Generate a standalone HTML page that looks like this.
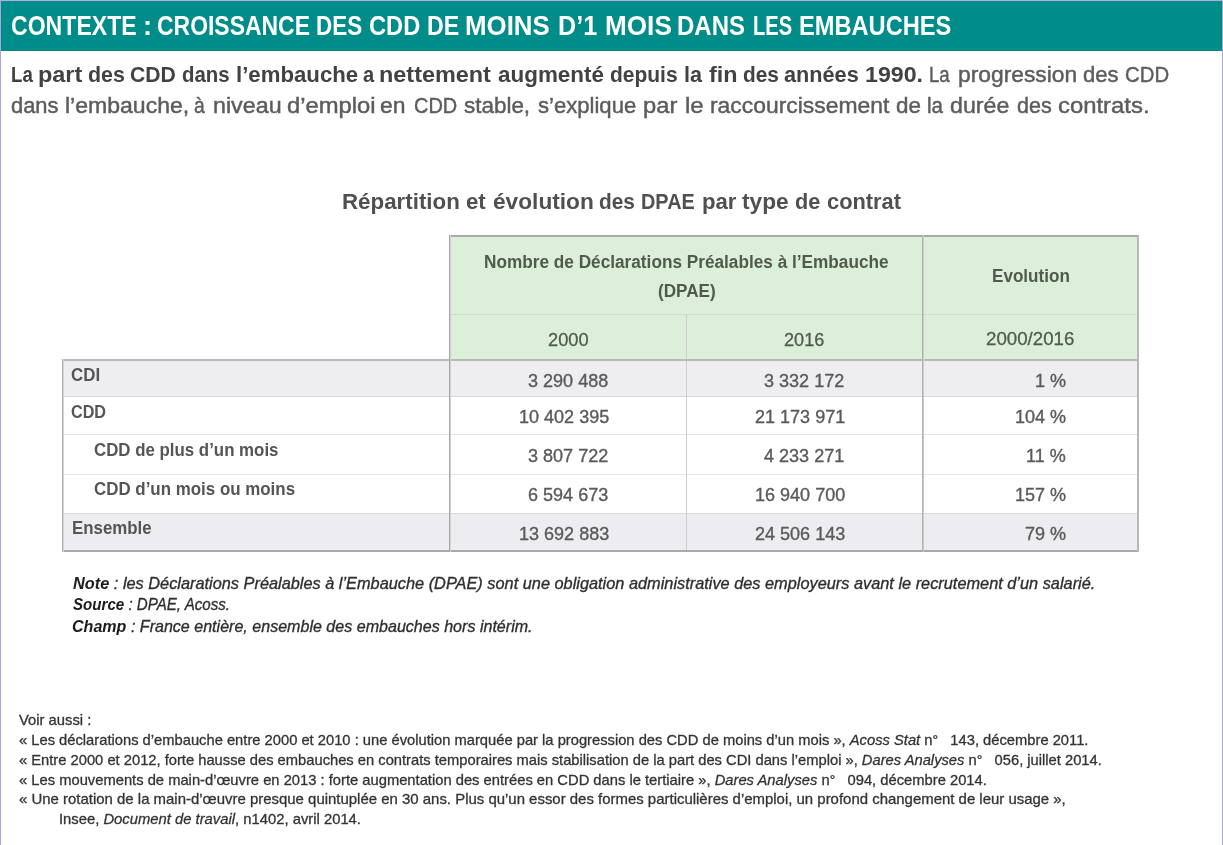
<!DOCTYPE html>
<html><head><meta charset="utf-8"><style>
*{margin:0;padding:0;box-sizing:border-box}
html,body{width:1223px;height:845px;overflow:hidden;background:#fff}
body{position:relative;font-family:"Liberation Sans",sans-serif;filter:blur(0.4px)}
.t{position:absolute;white-space:nowrap;transform-origin:0 0}
.t sup{font-size:0.6em;vertical-align:0.5em;line-height:0}
.bl{display:inline-block;width:0;height:0}
.t b{-webkit-text-stroke-width:0}
.r{position:absolute}
</style></head><body>
<div class="r" style="left:0;top:0;width:1223px;height:1px;background:#b4b0dc"></div>
<div class="r" style="left:0;top:0;width:1px;height:845px;background:#a9a7d6"></div>
<div class="r" style="left:1222px;top:0;width:1px;height:845px;background:#a9a9d0"></div>
<div class="r" style="left:1px;top:1px;width:1221px;height:50px;background:#008c88"></div>
<div class="r" style="left:449px;top:235px;width:690px;height:125px;background:#dcefd9"></div>
<div class="r" style="left:62px;top:360px;width:1077px;height:36px;background:#eeeef1"></div>
<div class="r" style="left:62px;top:513px;width:1077px;height:38px;background:#edecf1"></div>
<div class="r" style="left:450px;top:314px;width:688px;height:1px;background:#cfdcca"></div>
<div class="r" style="left:63px;top:396px;width:1075px;height:1px;background:#d8d8da"></div>
<div class="r" style="left:63px;top:434px;width:1075px;height:1px;background:#e4e4e4"></div>
<div class="r" style="left:63px;top:474px;width:1075px;height:1px;background:#e6e6e6"></div>
<div class="r" style="left:63px;top:513px;width:1075px;height:1px;background:#d9d9dc"></div>
<div class="r" style="left:686px;top:314px;width:1px;height:237px;background:#cdcdcd"></div>
<div class="r" style="left:449px;top:235px;width:690px;height:2px;background:#a5aca4"></div>
<div class="r" style="left:62px;top:359px;width:1077px;height:2px;background:#b8b9b8"></div>
<div class="r" style="left:62px;top:550px;width:1077px;height:2px;background:#a9a9a9"></div>
<div class="r" style="left:62px;top:359px;width:1px;height:193px;background:#b0b0b0"></div>
<div class="r" style="left:63px;top:359px;width:1px;height:193px;background:#d4d4d4"></div>
<div class="r" style="left:449px;top:235px;width:1px;height:317px;background:#a8a8a8"></div>
<div class="r" style="left:450px;top:235px;width:1px;height:317px;background:#d0d0d0"></div>
<div class="r" style="left:922px;top:235px;width:1px;height:317px;background:#b2b4b2"></div>
<div class="r" style="left:923px;top:235px;width:1px;height:317px;background:#c8c9c8"></div>
<div class="r" style="left:1137px;top:235px;width:2px;height:317px;background:#b8b8b8"></div>
<div class="t" id="t_hdr_0" style="left:10.96px;top:12.02px;font-size:27.5px;line-height:27.5px;font-weight:700;font-style:normal;color:#ffffff;transform:scaleX(0.8392);-webkit-text-stroke-width:0em"><span class="bl"></span>CONTEXTE</div>
<div class="t" id="t_hdr_1" style="left:142.80px;top:12.02px;font-size:27.5px;line-height:27.5px;font-weight:700;font-style:normal;color:#ffffff;transform:scaleX(0.9894);-webkit-text-stroke-width:0em"><span class="bl"></span>:</div>
<div class="t" id="t_hdr_2" style="left:157.17px;top:12.02px;font-size:27.5px;line-height:27.5px;font-weight:700;font-style:normal;color:#ffffff;transform:scaleX(0.8343);-webkit-text-stroke-width:0em"><span class="bl"></span>CROISSANCE</div>
<div class="t" id="t_hdr_3" style="left:316.07px;top:12.02px;font-size:27.5px;line-height:27.5px;font-weight:700;font-style:normal;color:#ffffff;transform:scaleX(0.8151);-webkit-text-stroke-width:0em"><span class="bl"></span>DES</div>
<div class="t" id="t_hdr_4" style="left:368.54px;top:12.02px;font-size:27.5px;line-height:27.5px;font-weight:700;font-style:normal;color:#ffffff;transform:scaleX(0.8614);-webkit-text-stroke-width:0em"><span class="bl"></span>CDD</div>
<div class="t" id="t_hdr_5" style="left:427.21px;top:12.02px;font-size:27.5px;line-height:27.5px;font-weight:700;font-style:normal;color:#ffffff;transform:scaleX(0.8429);-webkit-text-stroke-width:0em"><span class="bl"></span>DE</div>
<div class="t" id="t_hdr_6" style="left:465.12px;top:12.02px;font-size:27.5px;line-height:27.5px;font-weight:700;font-style:normal;color:#ffffff;transform:scaleX(0.9402);-webkit-text-stroke-width:0em"><span class="bl"></span>MOINS</div>
<div class="t" id="t_hdr_7" style="left:557.57px;top:12.02px;font-size:27.5px;line-height:27.5px;font-weight:700;font-style:normal;color:#ffffff;transform:scaleX(0.9150);-webkit-text-stroke-width:0em"><span class="bl"></span>D’1</div>
<div class="t" id="t_hdr_8" style="left:604.50px;top:12.02px;font-size:27.5px;line-height:27.5px;font-weight:700;font-style:normal;color:#ffffff;transform:scaleX(0.9507);-webkit-text-stroke-width:0em"><span class="bl"></span>MOIS</div>
<div class="t" id="t_hdr_9" style="left:677.36px;top:12.02px;font-size:27.5px;line-height:27.5px;font-weight:700;font-style:normal;color:#ffffff;transform:scaleX(0.8720);-webkit-text-stroke-width:0em"><span class="bl"></span>DANS</div>
<div class="t" id="t_hdr_10" style="left:752.60px;top:12.02px;font-size:27.5px;line-height:27.5px;font-weight:700;font-style:normal;color:#ffffff;transform:scaleX(0.7313);-webkit-text-stroke-width:0em"><span class="bl"></span>LES</div>
<div class="t" id="t_hdr_11" style="left:798.88px;top:12.02px;font-size:27.5px;line-height:27.5px;font-weight:700;font-style:normal;color:#ffffff;transform:scaleX(0.8592);-webkit-text-stroke-width:0em"><span class="bl"></span>EMBAUCHES</div>
<div class="t" id="p1_0" style="left:10.51px;top:64.32px;font-size:22.5px;line-height:22.5px;font-weight:400;font-style:normal;color:#5c5c5c;transform:scaleX(0.8279);-webkit-text-stroke-width:0.02em"><span class="bl"></span><b style="color:#424242">La</b></div>
<div class="t" id="p1_1" style="left:38.02px;top:64.32px;font-size:22.5px;line-height:22.5px;font-weight:400;font-style:normal;color:#5c5c5c;transform:scaleX(1.0425);-webkit-text-stroke-width:0.02em"><span class="bl"></span><b style="color:#424242">part</b></div>
<div class="t" id="p1_2" style="left:88.15px;top:64.32px;font-size:22.5px;line-height:22.5px;font-weight:400;font-style:normal;color:#5c5c5c;transform:scaleX(0.9514);-webkit-text-stroke-width:0.02em"><span class="bl"></span><b style="color:#424242">des</b></div>
<div class="t" id="p1_3" style="left:129.86px;top:64.32px;font-size:22.5px;line-height:22.5px;font-weight:400;font-style:normal;color:#5c5c5c;transform:scaleX(0.9404);-webkit-text-stroke-width:0.02em"><span class="bl"></span><b style="color:#424242">CDD</b></div>
<div class="t" id="p1_4" style="left:182.29px;top:64.32px;font-size:22.5px;line-height:22.5px;font-weight:400;font-style:normal;color:#5c5c5c;transform:scaleX(0.9059);-webkit-text-stroke-width:0.02em"><span class="bl"></span><b style="color:#424242">dans</b></div>
<div class="t" id="p1_5" style="left:235.63px;top:64.32px;font-size:22.5px;line-height:22.5px;font-weight:400;font-style:normal;color:#5c5c5c;transform:scaleX(0.9868);-webkit-text-stroke-width:0.02em"><span class="bl"></span><b style="color:#424242">l’embauche</b></div>
<div class="t" id="p1_6" style="left:362.61px;top:64.32px;font-size:22.5px;line-height:22.5px;font-weight:400;font-style:normal;color:#5c5c5c;transform:scaleX(0.8917);-webkit-text-stroke-width:0.02em"><span class="bl"></span><b style="color:#424242">a</b></div>
<div class="t" id="p1_7" style="left:379.42px;top:64.32px;font-size:22.5px;line-height:22.5px;font-weight:400;font-style:normal;color:#5c5c5c;transform:scaleX(1.0410);-webkit-text-stroke-width:0.02em"><span class="bl"></span><b style="color:#424242">nettement</b></div>
<div class="t" id="p1_8" style="left:497.90px;top:64.32px;font-size:22.5px;line-height:22.5px;font-weight:400;font-style:normal;color:#5c5c5c;transform:scaleX(0.9971);-webkit-text-stroke-width:0.02em"><span class="bl"></span><b style="color:#424242">augmenté</b></div>
<div class="t" id="p1_9" style="left:609.77px;top:64.32px;font-size:22.5px;line-height:22.5px;font-weight:400;font-style:normal;color:#5c5c5c;transform:scaleX(0.9324);-webkit-text-stroke-width:0.02em"><span class="bl"></span><b style="color:#424242">depuis</b></div>
<div class="t" id="p1_10" style="left:683.98px;top:64.32px;font-size:22.5px;line-height:22.5px;font-weight:400;font-style:normal;color:#5c5c5c;transform:scaleX(0.9588);-webkit-text-stroke-width:0.02em"><span class="bl"></span><b style="color:#424242">la</b></div>
<div class="t" id="p1_11" style="left:708.70px;top:64.32px;font-size:22.5px;line-height:22.5px;font-weight:400;font-style:normal;color:#5c5c5c;transform:scaleX(1.0385);-webkit-text-stroke-width:0.02em"><span class="bl"></span><b style="color:#424242">fin</b></div>
<div class="t" id="p1_12" style="left:742.97px;top:64.32px;font-size:22.5px;line-height:22.5px;font-weight:400;font-style:normal;color:#5c5c5c;transform:scaleX(0.9270);-webkit-text-stroke-width:0.02em"><span class="bl"></span><b style="color:#424242">des</b></div>
<div class="t" id="p1_13" style="left:783.84px;top:64.32px;font-size:22.5px;line-height:22.5px;font-weight:400;font-style:normal;color:#5c5c5c;transform:scaleX(0.9632);-webkit-text-stroke-width:0.02em"><span class="bl"></span><b style="color:#424242">années</b></div>
<div class="t" id="p1_14" style="left:865.17px;top:64.32px;font-size:22.5px;line-height:22.5px;font-weight:400;font-style:normal;color:#5c5c5c;transform:scaleX(1.0296);-webkit-text-stroke-width:0.02em"><span class="bl"></span><b style="color:#424242">1990.</b></div>
<div class="t" id="p1_15" style="left:929.02px;top:64.32px;font-size:22.5px;line-height:22.5px;font-weight:400;font-style:normal;color:#5c5c5c;transform:scaleX(0.8279);-webkit-text-stroke-width:0.02em"><span class="bl"></span>La</div>
<div class="t" id="p1_16" style="left:958.39px;top:64.32px;font-size:22.5px;line-height:22.5px;font-weight:400;font-style:normal;color:#5c5c5c;transform:scaleX(1.0139);-webkit-text-stroke-width:0.02em"><span class="bl"></span>progression</div>
<div class="t" id="p1_17" style="left:1083.22px;top:64.32px;font-size:22.5px;line-height:22.5px;font-weight:400;font-style:normal;color:#5c5c5c;transform:scaleX(0.9829);-webkit-text-stroke-width:0.02em"><span class="bl"></span>des</div>
<div class="t" id="p1_18" style="left:1125.00px;top:64.32px;font-size:22.5px;line-height:22.5px;font-weight:400;font-style:normal;color:#5c5c5c;transform:scaleX(0.9043);-webkit-text-stroke-width:0.02em"><span class="bl"></span>CDD</div>
<div class="t" id="p2_0" style="left:11.33px;top:95.41px;font-size:22.5px;line-height:22.5px;font-weight:400;font-style:normal;color:#5c5c5c;transform:scaleX(0.9723);-webkit-text-stroke-width:0.02em"><span class="bl"></span>dans</div>
<div class="t" id="p2_1" style="left:65.18px;top:95.41px;font-size:22.5px;line-height:22.5px;font-weight:400;font-style:normal;color:#5c5c5c;transform:scaleX(1.0235);-webkit-text-stroke-width:0.02em"><span class="bl"></span>l’embauche,</div>
<div class="t" id="p2_2" style="left:193.74px;top:95.41px;font-size:22.5px;line-height:22.5px;font-weight:400;font-style:normal;color:#5c5c5c;transform:scaleX(0.8583);-webkit-text-stroke-width:0.02em"><span class="bl"></span>à</div>
<div class="t" id="p2_3" style="left:212.87px;top:95.41px;font-size:22.5px;line-height:22.5px;font-weight:400;font-style:normal;color:#5c5c5c;transform:scaleX(1.0344);-webkit-text-stroke-width:0.02em"><span class="bl"></span>niveau</div>
<div class="t" id="p2_4" style="left:287.24px;top:95.41px;font-size:22.5px;line-height:22.5px;font-weight:400;font-style:normal;color:#5c5c5c;transform:scaleX(1.0573);-webkit-text-stroke-width:0.02em"><span class="bl"></span>d’emploi</div>
<div class="t" id="p2_5" style="left:380.48px;top:95.41px;font-size:22.5px;line-height:22.5px;font-weight:400;font-style:normal;color:#5c5c5c;transform:scaleX(1.0174);-webkit-text-stroke-width:0.02em"><span class="bl"></span>en</div>
<div class="t" id="p2_6" style="left:413.81px;top:95.41px;font-size:22.5px;line-height:22.5px;font-weight:400;font-style:normal;color:#5c5c5c;transform:scaleX(0.8872);-webkit-text-stroke-width:0.02em"><span class="bl"></span>CDD</div>
<div class="t" id="p2_7" style="left:464.40px;top:95.41px;font-size:22.5px;line-height:22.5px;font-weight:400;font-style:normal;color:#5c5c5c;transform:scaleX(0.9969);-webkit-text-stroke-width:0.02em"><span class="bl"></span>stable,</div>
<div class="t" id="p2_8" style="left:538.02px;top:95.41px;font-size:22.5px;line-height:22.5px;font-weight:400;font-style:normal;color:#5c5c5c;transform:scaleX(0.9816);-webkit-text-stroke-width:0.02em"><span class="bl"></span>s’explique</div>
<div class="t" id="p2_9" style="left:643.15px;top:95.41px;font-size:22.5px;line-height:22.5px;font-weight:400;font-style:normal;color:#5c5c5c;transform:scaleX(1.0548);-webkit-text-stroke-width:0.02em"><span class="bl"></span>par</div>
<div class="t" id="p2_10" style="left:684.83px;top:95.41px;font-size:22.5px;line-height:22.5px;font-weight:400;font-style:normal;color:#5c5c5c;transform:scaleX(1.0688);-webkit-text-stroke-width:0.02em"><span class="bl"></span>le</div>
<div class="t" id="p2_11" style="left:710.18px;top:95.41px;font-size:22.5px;line-height:22.5px;font-weight:400;font-style:normal;color:#5c5c5c;transform:scaleX(1.0166);-webkit-text-stroke-width:0.02em"><span class="bl"></span>raccourcissement</div>
<div class="t" id="p2_12" style="left:895.50px;top:95.41px;font-size:22.5px;line-height:22.5px;font-weight:400;font-style:normal;color:#5c5c5c;transform:scaleX(0.9957);-webkit-text-stroke-width:0.02em"><span class="bl"></span>de</div>
<div class="t" id="p2_13" style="left:926.69px;top:95.41px;font-size:22.5px;line-height:22.5px;font-weight:400;font-style:normal;color:#5c5c5c;transform:scaleX(0.9118);-webkit-text-stroke-width:0.02em"><span class="bl"></span>la</div>
<div class="t" id="p2_14" style="left:950.27px;top:95.41px;font-size:22.5px;line-height:22.5px;font-weight:400;font-style:normal;color:#5c5c5c;transform:scaleX(1.0304);-webkit-text-stroke-width:0.02em"><span class="bl"></span>durée</div>
<div class="t" id="p2_15" style="left:1017.04px;top:95.41px;font-size:22.5px;line-height:22.5px;font-weight:400;font-style:normal;color:#5c5c5c;transform:scaleX(0.9571);-webkit-text-stroke-width:0.02em"><span class="bl"></span>des</div>
<div class="t" id="p2_16" style="left:1057.84px;top:95.41px;font-size:22.5px;line-height:22.5px;font-weight:400;font-style:normal;color:#5c5c5c;transform:scaleX(1.0607);-webkit-text-stroke-width:0.02em"><span class="bl"></span>contrats.</div>
<div class="t" id="ttl_0" style="left:342.15px;top:192.40px;font-size:21.3px;line-height:21.3px;font-weight:700;font-style:normal;color:#505050;transform:scaleX(1.0482);-webkit-text-stroke-width:0em"><span class="bl"></span>Répartition</div>
<div class="t" id="ttl_1" style="left:466.46px;top:192.40px;font-size:21.3px;line-height:21.3px;font-weight:700;font-style:normal;color:#505050;transform:scaleX(1.0444);-webkit-text-stroke-width:0em"><span class="bl"></span>et</div>
<div class="t" id="ttl_2" style="left:492.53px;top:192.40px;font-size:21.3px;line-height:21.3px;font-weight:700;font-style:normal;color:#505050;transform:scaleX(1.0652);-webkit-text-stroke-width:0em"><span class="bl"></span>évolution</div>
<div class="t" id="ttl_3" style="left:598.82px;top:192.40px;font-size:21.3px;line-height:21.3px;font-weight:700;font-style:normal;color:#505050;transform:scaleX(0.9800);-webkit-text-stroke-width:0em"><span class="bl"></span>des</div>
<div class="t" id="ttl_4" style="left:641.37px;top:192.40px;font-size:21.3px;line-height:21.3px;font-weight:700;font-style:normal;color:#505050;transform:scaleX(0.9339);-webkit-text-stroke-width:0em"><span class="bl"></span>DPAE</div>
<div class="t" id="ttl_5" style="left:702.46px;top:192.40px;font-size:21.3px;line-height:21.3px;font-weight:700;font-style:normal;color:#505050;transform:scaleX(1.0406);-webkit-text-stroke-width:0em"><span class="bl"></span>par</div>
<div class="t" id="ttl_6" style="left:742.20px;top:192.40px;font-size:21.3px;line-height:21.3px;font-weight:700;font-style:normal;color:#505050;transform:scaleX(1.0651);-webkit-text-stroke-width:0em"><span class="bl"></span>type</div>
<div class="t" id="ttl_7" style="left:795.08px;top:192.40px;font-size:21.3px;line-height:21.3px;font-weight:700;font-style:normal;color:#505050;transform:scaleX(1.0174);-webkit-text-stroke-width:0em"><span class="bl"></span>de</div>
<div class="t" id="ttl_8" style="left:827.47px;top:192.40px;font-size:21.3px;line-height:21.3px;font-weight:700;font-style:normal;color:#505050;transform:scaleX(1.0254);-webkit-text-stroke-width:0em"><span class="bl"></span>contrat</div>
<div class="t" id="h1" style="left:484.12px;top:253.71px;font-size:17.6px;line-height:17.6px;font-weight:700;font-style:normal;color:#505a4d;transform:scaleX(0.9782);-webkit-text-stroke-width:0em"><span class="bl"></span>Nombre de Déclarations Préalables à l’Embauche</div>
<div class="t" id="h2" style="left:657.53px;top:282.51px;font-size:17.6px;line-height:17.6px;font-weight:700;font-style:normal;color:#505a4d;transform:scaleX(0.9719);-webkit-text-stroke-width:0em"><span class="bl"></span>(DPAE)</div>
<div class="t" id="h3" style="left:991.63px;top:268.21px;font-size:17.6px;line-height:17.6px;font-weight:700;font-style:normal;color:#505a4d;transform:scaleX(0.9718);-webkit-text-stroke-width:0em"><span class="bl"></span>Evolution</div>
<div class="t" id="h4" style="left:547.77px;top:331.51px;font-size:17.8px;line-height:17.8px;font-weight:400;font-style:normal;color:#505a4d;transform:scaleX(1.0263);-webkit-text-stroke-width:0.015em"><span class="bl"></span>2000</div>
<div class="t" id="h5" style="left:784.28px;top:331.51px;font-size:17.8px;line-height:17.8px;font-weight:400;font-style:normal;color:#505a4d;transform:scaleX(1.0184);-webkit-text-stroke-width:0.015em"><span class="bl"></span>2016</div>
<div class="t" id="h6" style="left:986.45px;top:331.21px;font-size:17.8px;line-height:17.8px;font-weight:400;font-style:normal;color:#505a4d;transform:scaleX(1.0512);-webkit-text-stroke-width:0.015em"><span class="bl"></span>2000/2016</div>
<div class="t" id="l1" style="left:71.35px;top:366.81px;font-size:17.8px;line-height:17.8px;font-weight:700;font-style:normal;color:#555555;transform:scaleX(0.9500);-webkit-text-stroke-width:0em"><span class="bl"></span>CDI</div>
<div class="t" id="l2" style="left:71.39px;top:403.51px;font-size:17.8px;line-height:17.8px;font-weight:700;font-style:normal;color:#555555;transform:scaleX(0.9081);-webkit-text-stroke-width:0em"><span class="bl"></span>CDD</div>
<div class="t" id="l3" style="left:94.25px;top:441.60px;font-size:17.8px;line-height:17.8px;font-weight:700;font-style:normal;color:#555555;transform:scaleX(0.9477);-webkit-text-stroke-width:0em"><span class="bl"></span>CDD de plus d’un mois</div>
<div class="t" id="l4" style="left:94.25px;top:481.31px;font-size:17.8px;line-height:17.8px;font-weight:700;font-style:normal;color:#555555;transform:scaleX(0.9510);-webkit-text-stroke-width:0em"><span class="bl"></span>CDD d’un mois ou moins</div>
<div class="t" id="l5" style="left:71.75px;top:520.01px;font-size:17.8px;line-height:17.8px;font-weight:700;font-style:normal;color:#555555;transform:scaleX(0.9476);-webkit-text-stroke-width:0em"><span class="bl"></span>Ensemble</div>
<div class="t" id="notes1" style="left:73.00px;top:575.61px;font-size:16.6px;line-height:16.6px;font-weight:400;font-style:italic;color:#2e2e2e;transform:scaleX(0.9838);-webkit-text-stroke-width:0.02em"><span class="bl"></span><b style="color:#1c1c1c">Note</b> : les Déclarations Préalables à l’Embauche (DPAE) sont une obligation administrative des employeurs avant le recrutement d’un salarié.</div>
<div class="t" id="notes2" style="left:73.00px;top:596.91px;font-size:16.6px;line-height:16.6px;font-weight:400;font-style:italic;color:#2e2e2e;transform:scaleX(0.9106);-webkit-text-stroke-width:0.02em"><span class="bl"></span><b style="color:#1c1c1c">Source</b> : DPAE, Acoss.</div>
<div class="t" id="notes3" style="left:72.03px;top:619.11px;font-size:16.6px;line-height:16.6px;font-weight:400;font-style:italic;color:#2e2e2e;transform:scaleX(0.9677);-webkit-text-stroke-width:0.02em"><span class="bl"></span><b style="color:#1c1c1c">Champ</b> : France entière, ensemble des embauches hors intérim.</div>
<div class="t" id="v0" style="left:19.20px;top:712.80px;font-size:14.8px;line-height:14.8px;font-weight:400;font-style:normal;color:#333333;transform:scaleX(0.9993);-webkit-text-stroke-width:0.02em"><span class="bl"></span>Voir aussi :</div>
<div class="t" id="v1" style="left:18.60px;top:733.41px;font-size:14.8px;line-height:14.8px;font-weight:400;font-style:normal;color:#333333;transform:scaleX(0.9951);-webkit-text-stroke-width:0.02em"><span class="bl"></span>« Les déclarations d’embauche entre 2000 et 2010 : une évolution marquée par la progression des CDD de moins d’un mois », <i>Acoss Stat</i> n<span style="font-size:0.95em">°</span>&nbsp;&nbsp; 143, décembre 2011.</div>
<div class="t" id="v2" style="left:18.61px;top:753.01px;font-size:14.8px;line-height:14.8px;font-weight:400;font-style:normal;color:#333333;transform:scaleX(0.9949);-webkit-text-stroke-width:0.02em"><span class="bl"></span>« Entre 2000 et 2012, forte hausse des embauches en contrats temporaires mais stabilisation de la part des CDI dans l’emploi », <i>Dares Analyses</i> n<span style="font-size:0.95em">°</span>&nbsp;&nbsp; 056, juillet 2014.</div>
<div class="t" id="v3" style="left:18.60px;top:772.71px;font-size:14.8px;line-height:14.8px;font-weight:400;font-style:normal;color:#333333;transform:scaleX(0.9962);-webkit-text-stroke-width:0.02em"><span class="bl"></span>« Les mouvements de main-d’œuvre en 2013 : forte augmentation des entrées en CDD dans le tertiaire », <i>Dares Analyses</i> n<span style="font-size:0.95em">°</span>&nbsp;&nbsp; 094, décembre 2014.</div>
<div class="t" id="v4" style="left:18.59px;top:792.21px;font-size:14.8px;line-height:14.8px;font-weight:400;font-style:normal;color:#333333;transform:scaleX(1.0100);-webkit-text-stroke-width:0.02em"><span class="bl"></span>« Une rotation de la main-d’œuvre presque quintuplée en 30 ans. Plus qu’un essor des formes particulières d’emploi, un profond changement de leur usage »,</div>
<div class="t" id="v5" style="left:59.00px;top:811.51px;font-size:14.8px;line-height:14.8px;font-weight:400;font-style:normal;color:#333333;transform:scaleX(1.0003);-webkit-text-stroke-width:0.02em"><span class="bl"></span>Insee, <i>Document de travail</i>, n1402, avril 2014.</div>
<div class="t" id="n1_0" style="left:528.39px;top:372.51px;font-size:17.8px;line-height:17.8px;font-weight:400;font-style:normal;color:#5a5a5a;transform:scaleX(1.0141);-webkit-text-stroke-width:0.02em"><span class="bl"></span>3 290 488</div>
<div class="t" id="n2_0" style="left:764.49px;top:372.51px;font-size:17.8px;line-height:17.8px;font-weight:400;font-style:normal;color:#5a5a5a;transform:scaleX(1.0141);-webkit-text-stroke-width:0.02em"><span class="bl"></span>3 332 172</div>
<div class="t" id="n3_0" style="left:1035.38px;top:372.51px;font-size:17.8px;line-height:17.8px;font-weight:400;font-style:normal;color:#5a5a5a;transform:scaleX(1.0141);-webkit-text-stroke-width:0.02em"><span class="bl"></span>1 %</div>
<div class="t" id="n1_1" style="left:519.26px;top:409.40px;font-size:17.8px;line-height:17.8px;font-weight:400;font-style:normal;color:#5a5a5a;transform:scaleX(1.0141);-webkit-text-stroke-width:0.02em"><span class="bl"></span>10 402 395</div>
<div class="t" id="n2_1" style="left:755.36px;top:409.40px;font-size:17.8px;line-height:17.8px;font-weight:400;font-style:normal;color:#5a5a5a;transform:scaleX(1.0141);-webkit-text-stroke-width:0.02em"><span class="bl"></span>21 173 971</div>
<div class="t" id="n3_1" style="left:1015.09px;top:409.40px;font-size:17.8px;line-height:17.8px;font-weight:400;font-style:normal;color:#5a5a5a;transform:scaleX(1.0141);-webkit-text-stroke-width:0.02em"><span class="bl"></span>104 %</div>
<div class="t" id="n1_2" style="left:528.39px;top:447.71px;font-size:17.8px;line-height:17.8px;font-weight:400;font-style:normal;color:#5a5a5a;transform:scaleX(1.0141);-webkit-text-stroke-width:0.02em"><span class="bl"></span>3 807 722</div>
<div class="t" id="n2_2" style="left:764.49px;top:447.71px;font-size:17.8px;line-height:17.8px;font-weight:400;font-style:normal;color:#5a5a5a;transform:scaleX(1.0141);-webkit-text-stroke-width:0.02em"><span class="bl"></span>4 233 271</div>
<div class="t" id="n3_2" style="left:1026.25px;top:447.71px;font-size:17.8px;line-height:17.8px;font-weight:400;font-style:normal;color:#5a5a5a;transform:scaleX(1.0141);-webkit-text-stroke-width:0.02em"><span class="bl"></span>11 %</div>
<div class="t" id="n1_3" style="left:528.39px;top:487.01px;font-size:17.8px;line-height:17.8px;font-weight:400;font-style:normal;color:#5a5a5a;transform:scaleX(1.0141);-webkit-text-stroke-width:0.02em"><span class="bl"></span>6 594 673</div>
<div class="t" id="n2_3" style="left:755.36px;top:487.01px;font-size:17.8px;line-height:17.8px;font-weight:400;font-style:normal;color:#5a5a5a;transform:scaleX(1.0141);-webkit-text-stroke-width:0.02em"><span class="bl"></span>16 940 700</div>
<div class="t" id="n3_3" style="left:1015.09px;top:487.01px;font-size:17.8px;line-height:17.8px;font-weight:400;font-style:normal;color:#5a5a5a;transform:scaleX(1.0141);-webkit-text-stroke-width:0.02em"><span class="bl"></span>157 %</div>
<div class="t" id="n1_4" style="left:519.26px;top:526.01px;font-size:17.8px;line-height:17.8px;font-weight:400;font-style:normal;color:#5a5a5a;transform:scaleX(1.0141);-webkit-text-stroke-width:0.02em"><span class="bl"></span>13 692 883</div>
<div class="t" id="n2_4" style="left:755.36px;top:526.01px;font-size:17.8px;line-height:17.8px;font-weight:400;font-style:normal;color:#5a5a5a;transform:scaleX(1.0141);-webkit-text-stroke-width:0.02em"><span class="bl"></span>24 506 143</div>
<div class="t" id="n3_4" style="left:1025.24px;top:526.01px;font-size:17.8px;line-height:17.8px;font-weight:400;font-style:normal;color:#5a5a5a;transform:scaleX(1.0141);-webkit-text-stroke-width:0.02em"><span class="bl"></span>79 %</div>
</body></html>
